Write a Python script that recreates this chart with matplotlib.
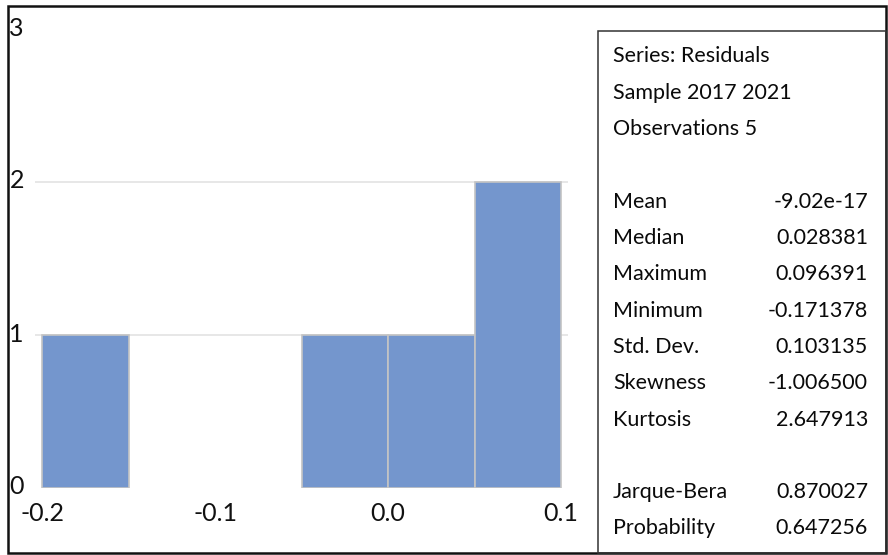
import numpy as np
import matplotlib
matplotlib.use("Agg")
import matplotlib.pyplot as plt
from matplotlib.patches import Rectangle
from matplotlib.transforms import ScaledTranslation

# histogram bins (left edges) and counts
bin_left = [-0.20, -0.15, -0.10, -0.05, 0.00, 0.05]
counts = [1, 0, 0, 1, 1, 2]
bin_width = 0.05

x_ticks = [-0.2, -0.1, 0.0, 0.1]
x_tick_labels = ["-0.2", "-0.1", "0.0", "0.1"]
y_ticks = [0, 1, 2, 3]
grid_vals = [1, 2]

# stats panel text (blank rows kept as None)
stat_names = ["Series: Residuals", "Sample 2017 2021", "Observations 5", None,
              "Mean", "Median", "Maximum", "Minimum", "Std. Dev.",
              "Skewness", "Kurtosis", None, "Jarque-Bera", "Probability"]
stat_values = ["", "", "", None,
               "-9.02e-17", "0.028381", "0.096391", "-0.171378", "0.103135",
               "-1.006500", "2.647913", None, "0.870027", "0.647256"]

W, H = 888, 555
plt.rcParams["font.family"] = ["Lato", "DejaVu Sans"]

fig = plt.figure(figsize=(W / 100, H / 100), dpi=100)


def fx(px):
    return px / W


def fy(py):
    return 1 - py / H


# plot area
ax = fig.add_axes([fx(35), fy(488), fx(568) - fx(35), fy(29) - fy(488)])
for g in grid_vals:
    ax.axhline(g, color="#e3e3e3", lw=1.2, zorder=0)
# empty bins get no outline
lws = [1.2 if c > 0 else 0 for c in counts]
ax.bar(bin_left, counts, width=bin_width, align="edge", color="#7496cd",
       edgecolor="#c4c4c4", linewidth=lws, zorder=2)

ax.set_xlim(-0.2 - 7 / 1730, 0.1 + 7 / 1730)
ax.set_ylim(0, 3)
ax.set_xticks(x_ticks, x_tick_labels)
ax.set_yticks(y_ticks, [str(v) for v in y_ticks])
ax.tick_params(axis="both", length=0, labelsize=18, labelcolor="#111111")
ax.tick_params(axis="x", pad=10)
ax.tick_params(axis="y", pad=8)
up = ScaledTranslation(0, 3 / 100, fig.dpi_scale_trans)
for lbl in ax.get_yticklabels():
    lbl.set_transform(lbl.get_transform() + up)
for s in ax.spines.values():
    s.set_visible(False)

# borders
fig.patches.append(Rectangle((fx(8), fy(553)), fx(886) - fx(8), fy(6) - fy(553),
                             transform=fig.transFigure, fill=False,
                             edgecolor="#111111", lw=1.8, zorder=5))
fig.patches.append(Rectangle((fx(598), fy(553)), fx(886) - fx(598), fy(31) - fy(553),
                             transform=fig.transFigure, fill=False,
                             edgecolor="#333333", lw=1.1, zorder=5))

# stats text
row0, step, cap_half = 55.5, 36.3, 7
for i, (name, val) in enumerate(zip(stat_names, stat_values)):
    if name is None:
        continue
    yb = fy(row0 + i * step + cap_half)
    fig.text(fx(613), yb, name, ha="left", va="baseline", fontsize=15.5, color="#0a0a0a")
    if val:
        fig.text(fx(868), yb, val, ha="right", va="baseline", fontsize=15.5, color="#0a0a0a")

fig.savefig("out.png", dpi=100)
